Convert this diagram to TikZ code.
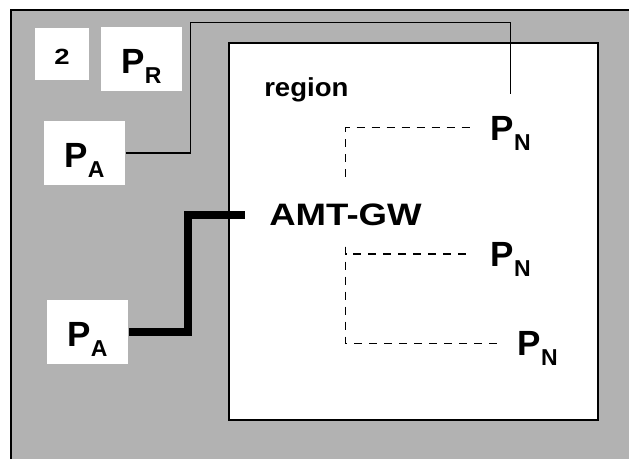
\documentclass[tikz,border=0pt]{standalone}
\usepackage{fontspec}
\setmainfont{Liberation Sans}
\definecolor{outergray}{gray}{0.7}
\newcommand{\psub}[1]{\raisebox{-10pt}{\fontsize{23}{23}\selectfont #1}}
\tikzset{
	% ---- default
	every path/.style={line width=1.5pt},
	every node/.style={font=\bfseries},
	% ---- custom
	pbox/.style={fill=white, inner sep=0pt, minimum width=81pt, minimum height=64pt,
		text height=38pt, text depth=10pt, font=\fontsize{35}{40}\selectfont\bfseries},
	numbox/.style={fill=white, inner sep=0pt, minimum width=54pt, minimum height=52pt,
		text height=20pt, text depth=0pt, font=\fontsize{22}{24}\selectfont\bfseries},
	pnode/.style={anchor=west, inner xsep=18pt, inner ysep=9pt, text height=36pt,
		text depth=11pt, font=\fontsize{35}{40}\selectfont\bfseries},
	gwnode/.style={inner xsep=24pt, inner ysep=0pt, text height=22pt, text depth=0pt,
		font=\fontsize{31}{36}\selectfont\bfseries},
	uplink/.style={line width=1.5pt},
	trunk/.style={line width=8pt},
	member/.style={line width=1.4pt, dash pattern=on 8pt off 7pt},
}
\begin{document}
\begin{tikzpicture}[x=1pt, y=-1pt]

% frame %{{{2

	\useasboundingbox (0,0) rectangle (629,459);
	\fill[outergray] (11,10) rectangle (629,459);
	\draw (11,459) -- (11,10) -- (629,10);
	\draw[fill=white] (229,43) rectangle (598,420);

% coordinates %{{{2

	\coordinate (bend) at (190.7,22.7);
	\coordinate (jog) at (187.7,214.7);
	\coordinate (gwtop) at (345.7,176.7);
	\coordinate (gwbot) at (345.7,246.7);

% nodes %{{{2

	\node[numbox] (two) at (62,54) {\scalebox{1.25}[1]{2}};
	\node[pbox] (pr) at (141.5,59) {P\psub{R}};
	\node[pbox] (pa1) at (84.5,153) {P\psub{A}};
	\node[pbox] (pa2) at (87.5,332) {P\psub{A}};

	\node[anchor=base west, inner sep=0pt, font=\fontsize{26}{30}\selectfont\bfseries]
		(region) at (263.5,96.7) {\scalebox{1.06}[1]{region}};
	\node[gwnode] (gw) at (345.5,214.7) {\scalebox{1.18}[1]{AMT-GW}};

	\node[pnode] (pn1) at (472,127.7) {P\psub{N}};
	\node[pnode] (pn2) at (472,254) {P\psub{N}};
	\node[pnode] (pn3) at (499,343.3) {P\psub{N}};

% links %{{{2

	\draw[uplink] (pa1.east) -| (bend) -| (pn1.north);
	\draw[trunk] (pa2.east) -| (jog) -- (gw.west);

	\draw[member] (gwtop) |- (pn1.west);
	\draw[member] (gwbot) |- (pn2.west);
	\draw[member] (gwbot) |- (pn3.west);

% closing %{{{2

\end{tikzpicture}
\end{document}
